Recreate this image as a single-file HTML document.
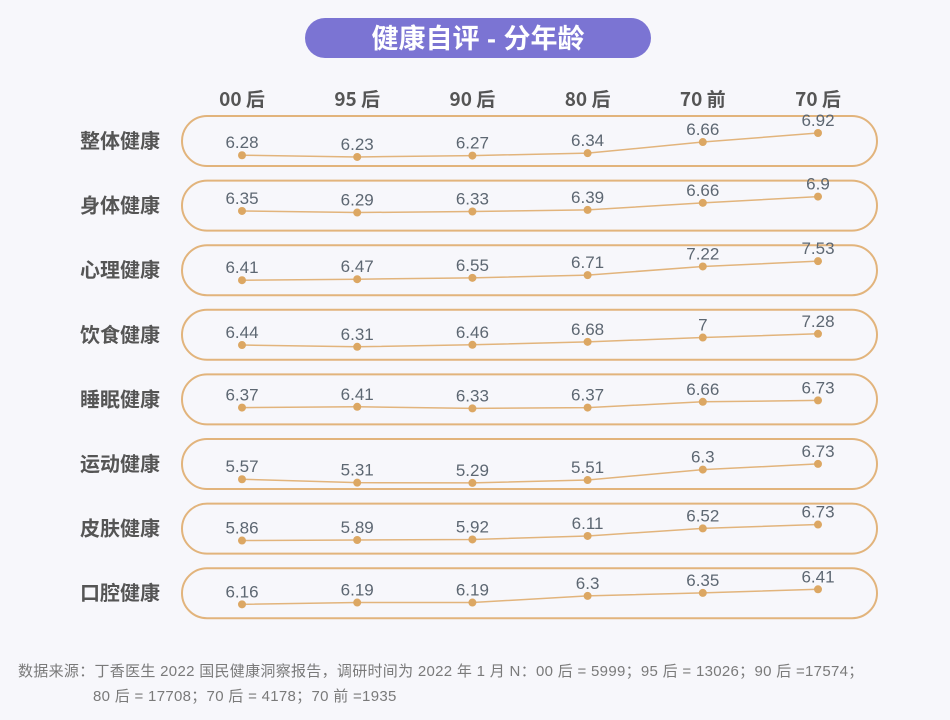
<!DOCTYPE html>
<html><head><meta charset="utf-8">
<style>
body{margin:0;background:#f7f7fb;width:950px;height:720px;overflow:hidden;font-family:"Liberation Sans","Noto Sans CJK SC",sans-serif;}
svg{display:block}
</style></head>
<body>
<svg id="chart" width="950" height="720">
  <rect x="305" y="18" width="346" height="40" rx="20" fill="#7b74d3"/>
  <text x="478" y="48" text-anchor="middle" font-size="27" font-weight="bold" fill="#fff">健康自评 - 分年龄</text>
  <g id="rows"></g>
  <text x="18" y="676" font-size="15" letter-spacing="0.3" fill="#7a7a7a">数据来源：丁香医生 2022 国民健康洞察报告，调研时间为 2022 年 1 月 N：00 后 = 5999；95 后 = 13026；90 后 =17574；</text>
  <text x="93" y="701" font-size="15" letter-spacing="0.3" fill="#7a7a7a">80 后 = 17708；70 后 = 4178；70 前 =1935</text>
</svg>
<script>
const categories = ["00 后","95 后","90 后","80 后","70 前","70 后"];
const rowLabels = ["整体健康","身体健康","心理健康","饮食健康","睡眠健康","运动健康","皮肤健康","口腔健康"];
const s0 = [6.28,6.23,6.27,6.34,6.66,6.92];
const s1 = [6.35,6.29,6.33,6.39,6.66,6.9];
const s2 = [6.41,6.47,6.55,6.71,7.22,7.53];
const s3 = [6.44,6.31,6.46,6.68,7,7.28];
const s4 = [6.37,6.41,6.33,6.37,6.66,6.73];
const s5 = [5.57,5.31,5.29,5.51,6.3,6.73];
const s6 = [5.86,5.89,5.92,6.11,6.52,6.73];
const s7 = [6.16,6.19,6.19,6.3,6.35,6.41];
const series = [s0,s1,s2,s3,s4,s5,s6,s7];
const axisMin = [5.97,5.60,5.53,5.34,5.53,4.83,5.15,5.93];
const axisMax = [7.41,7.51,8.47,9.07,8.03,8.62,7.87,6.76];

const NS="http://www.w3.org/2000/svg";
const svg=document.getElementById('rows');
function mk(t,a){const e=document.createElementNS(NS,t);for(const k in a)e.setAttribute(k,a[k]);return e;}
const x0=242, dx=115.2;
function xPos(i){return x0+i*dx;}
const rowTop0=116, rowStep=64.6, rowH=50;
function yPos(r,v){const top=rowTop0+r*rowStep;return top+rowH*(axisMax[r]-v)/(axisMax[r]-axisMin[r]);}

categories.forEach((c,i)=>{
  const t=mk('text',{x:xPos(i),y:106,'text-anchor':'middle','font-size':19,'font-weight':'bold',fill:'#555','font-family':'"Noto Sans CJK SC",sans-serif'});
  
  
  t.textContent=c;svg.appendChild(t);
});
series.forEach((vals,r)=>{
  const top=rowTop0+r*rowStep;
  const box=mk('rect',{x:182,y:top,width:695,height:rowH,rx:25,fill:'none',stroke:'#e2b47c','stroke-width':2});
  
  
  svg.appendChild(box);
  const lab=mk('text',{x:120,y:top+rowH/2+7,'text-anchor':'middle','font-size':20,'font-weight':'bold',fill:'#555','font-family':'"Noto Sans CJK SC",sans-serif'});
  
  
  lab.textContent=rowLabels[r];svg.appendChild(lab);
  const pts=vals.map((v,i)=>xPos(i)+','+yPos(r,v)).join(' ');
  const line=mk('polyline',{points:pts,fill:'none',stroke:'#e2b47c','stroke-width':1.5});
  
  
  svg.appendChild(line);
  vals.forEach((v,i)=>{
    const c=mk('circle',{cx:xPos(i),cy:yPos(r,v),r:4,fill:'#dca763'});
    
    
    svg.appendChild(c);
    const t=mk('text',{x:xPos(i),y:yPos(r,v)-7,'text-anchor':'middle','font-size':17,fill:'#5d6772'});
    
    
    t.textContent=String(v);svg.appendChild(t);
  });
});
</script>
</body></html>
